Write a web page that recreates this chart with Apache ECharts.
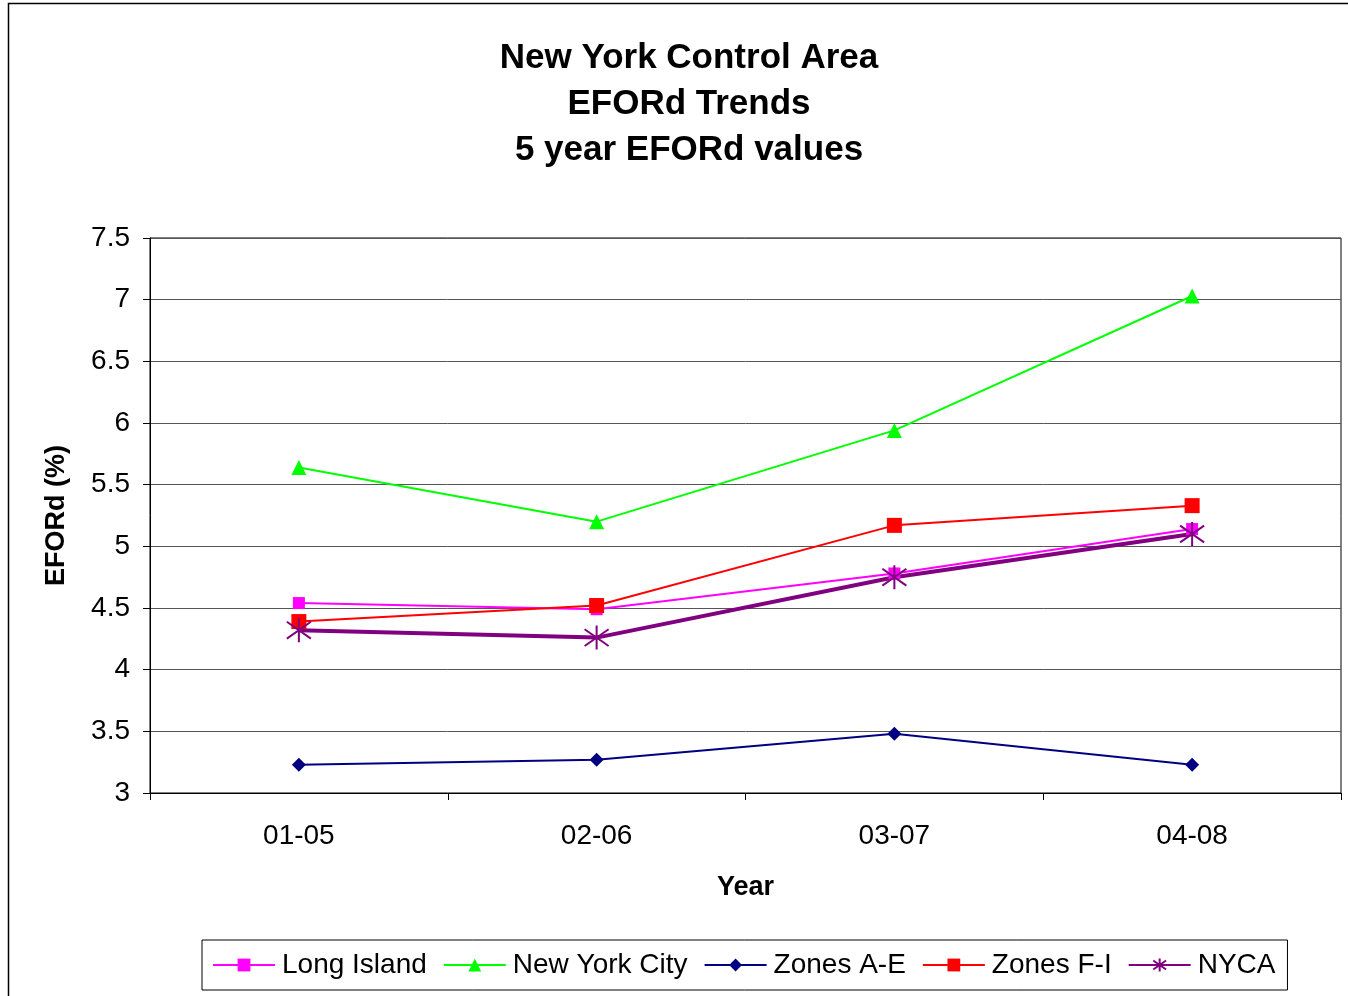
<!DOCTYPE html>
<html>
<head>
<meta charset="utf-8">
<script src="https://cdn.jsdelivr.net/npm/echarts@6/dist/echarts.min.js"></script>
<style>
html, body { margin: 0; padding: 0; background: #fff; }
#main { width: 1348px; height: 996px; }
</style>
</head>
<body>
<div id="main"></div>
<script>
var years = ['01-05', '02-06', '03-07', '04-08'];
var longIsland = [4.54, 4.49, 4.78, 5.14];
var newYorkCity = [5.64, 5.20, 5.94, 7.03];
var zonesAE = [3.23, 3.27, 3.48, 3.23];
var zonesFI = [4.39, 4.52, 5.17, 5.33];
var nyca = [4.32, 4.26, 4.75, 5.10];

var font = 'Arial, "Liberation Sans", sans-serif';
var asterisk = 'path://M5,0L5,10M0,1.5L10,8.5M0,8.5L10,1.5';

var myChart = echarts.init(document.getElementById('main'));

function makeSeries(name, data, color, width, symbol, size) {
	var s = {
		name : name,
		type : 'line',
		data : data,
		symbol : symbol,
		symbolSize : size,
		showAllSymbol : true,
		lineStyle : { color : color, width : width },
		itemStyle : { color : color },
		emphasis : { disabled : true }
	};
	if (symbol === asterisk) {
		s.itemStyle = { color : 'none', borderColor : color, borderWidth : 2 };
	}
	return s;
}

var option = {
	animation : false,
	backgroundColor : '#fff',
	title : {
		text : 'New York Control Area\nEFORd Trends\n5 year EFORd values',
		left : 684,
		textAlign : 'center',
		top : 30,
		textStyle : {
			fontFamily : font,
			fontSize : 35,
			fontWeight : 'bold',
			color : '#000',
			lineHeight : 46
		}
	},
	graphic : [{
		type : 'rect',
		shape : { x : 8.5, y : 3.5, width : 1400, height : 1100 },
		style : { fill : 'none', stroke : '#000', lineWidth : 1.5 },
		silent : true
	}],
	legend : {
		left : 202,
		top : 940,
		padding : [11, 12, 11, 10],
		borderColor : '#000',
		borderWidth : 1,
		itemGap : 16,
		itemWidth : 62,
		itemHeight : 16,
		textStyle : { fontFamily : font, fontSize : 28, color : '#000', padding : [0, 0, 0, 2] },
		data : ['Long Island', 'New York City', 'Zones A-E', 'Zones F-I', 'NYCA']
	},
	grid : {
		left : 150,
		right : 7,
		top : 238,
		bottom : 203,
		show : true,
		borderColor : '#000',
		borderWidth : 1
	},
	xAxis : {
		type : 'category',
		data : years,
		boundaryGap : true,
		name : 'Year',
		nameLocation : 'middle',
		nameGap : 81,
		nameTextStyle : { fontFamily : font, fontSize : 27, fontWeight : 'bold', color : '#000' },
		axisLine : { lineStyle : { color : '#000', width : 1 } },
		axisTick : { show : true, length : 7, inside : false, alignWithLabel : false, lineStyle : { color : '#000' } },
		axisLabel : { fontFamily : font, fontSize : 28, color : '#000', margin : 29 },
		splitLine : { show : false }
	},
	yAxis : {
		type : 'value',
		min : 3,
		max : 7.5,
		interval : 0.5,
		name : 'EFORd (%)',
		nameLocation : 'middle',
		nameGap : 80,
		nameTextStyle : { fontFamily : font, fontSize : 27, fontWeight : 'bold', color : '#000' },
		axisLine : { show : true, lineStyle : { color : '#000', width : 1 } },
		axisTick : { show : true, length : 7, lineStyle : { color : '#000' } },
		axisLabel : { fontFamily : font, fontSize : 28, color : '#000', margin : 20 },
		splitLine : { show : true, lineStyle : { color : '#555', width : 1 } }
	},
	series : [
		makeSeries('Long Island', longIsland, '#ff00ff', 2, 'rect', 12),
		makeSeries('New York City', newYorkCity, '#00ff00', 2, 'triangle', 15),
		makeSeries('Zones A-E', zonesAE, '#000080', 2, 'diamond', 14),
		makeSeries('Zones F-I', zonesFI, '#ff0000', 2, 'rect', 15),
		makeSeries('NYCA', nyca, '#800080', 4, asterisk, 24)
	]
};
myChart.setOption(option);
</script>
</body>
</html>
